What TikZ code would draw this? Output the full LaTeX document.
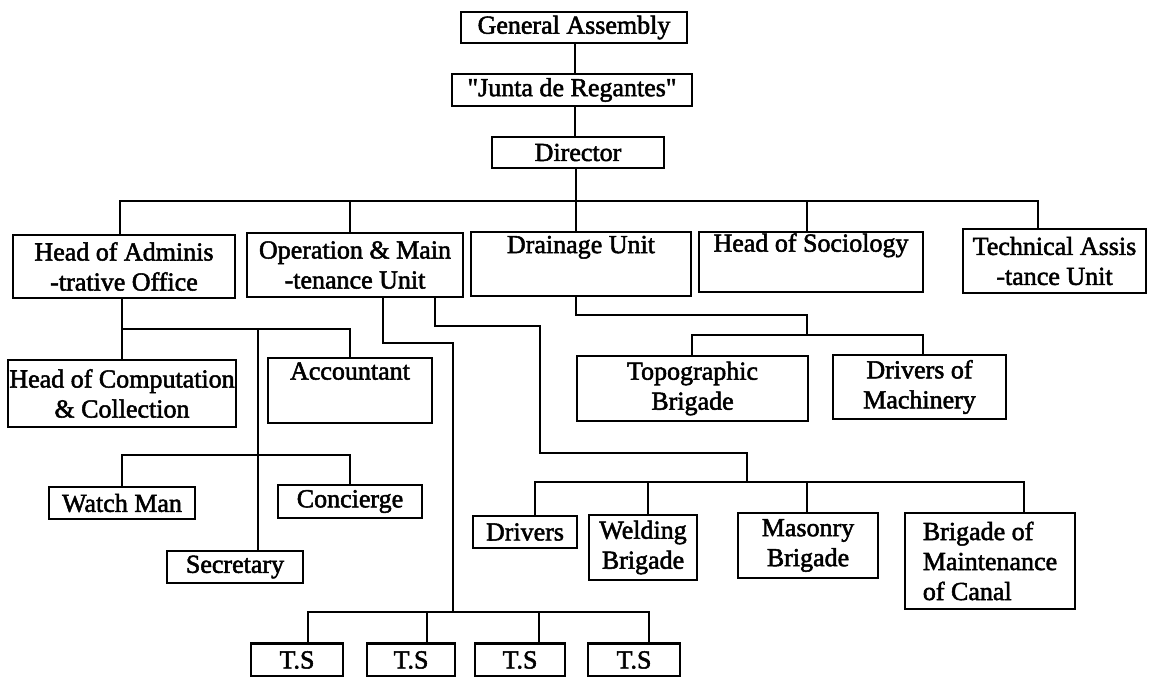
\documentclass[tikz,border=0pt]{standalone}
\usepackage{fontspec}
\setmainfont{Liberation Serif}[FakeBold=2]
\newfontfamily\plainserif{Liberation Serif}[FakeBold=2]
\begin{document}
\begin{tikzpicture}[x=1pt,y=-1pt,
  box/.style={draw, line width=2.6pt, inner sep=0pt, align=center,
    font=\fontsize{26}{30}\selectfont},
  conn/.style={line width=2.6pt}]
\useasboundingbox (0,0) rectangle (1149,677);
% top chain
\node[box, minimum width=226pt, minimum height=31pt] (ga) at (574,27.5) {General Assembly};
\node[box, minimum width=240pt, minimum height=32pt] (junta) at (572,90) {\plainserif"Junta de Regantes"};
\node[box, minimum width=172pt, minimum height=31pt] (dir) at (578,152.5) {Director};
% level 1
\node[box, minimum width=222pt, minimum height=63pt] (admin) at (124,266.5) {Head of Adminis\\-trative Office};
\node[box, minimum width=216pt, minimum height=64pt] (oper) at (355,265) {Operation \& Main\\-tenance Unit};
\node[box, minimum width=220pt, minimum height=64pt] (drain) at (581,264) {Drainage Unit\\\strut};
\node[box, minimum width=224pt, minimum height=60pt] (socio) at (811,262) {Head of Sociology\\\strut};
\node[box, minimum width=183pt, minimum height=64pt] (tech) at (1054.5,261) {Technical Assis\\-tance Unit};
% level 2
\node[box, minimum width=228pt, minimum height=67pt] (hoc) at (122,393.5) {Head of Computation\\\& Collection};
\node[box, minimum width=164pt, minimum height=65pt] (acct) at (350,390.5) {Accountant\\\strut};
\node[box, minimum width=231pt, minimum height=65pt] (topo) at (692.5,388.5) {Topographic\\Brigade};
\node[box, minimum width=173pt, minimum height=64pt] (dom) at (919.5,387) {Drivers of\\Machinery};
% level 3
\node[box, minimum width=146pt, minimum height=32pt] (watch) at (122,503) {Watch Man};
\node[box, minimum width=144pt, minimum height=33pt] (conc) at (350,501.5) {Concierge};
\node[box, minimum width=136pt, minimum height=32pt] (sec) at (235,567) {Secretary};
\node[box, minimum width=104pt, minimum height=32pt] (drivers) at (525,532) {Drivers};
\node[box, minimum width=108pt, minimum height=65pt] (weld) at (643,547.5) {Welding\\Brigade};
\node[box, minimum width=140pt, minimum height=65pt] (mason) at (808,545.5) {Masonry\\Brigade};
\node[box, minimum width=170pt, minimum height=96pt, align=left] (bmc) at (990,561) {Brigade of\\Maintenance\\of Canal};
% T.S
\node[box, minimum width=92pt, minimum height=33pt] (ts1) at (297,660) {T.S};
\node[box, minimum width=88pt, minimum height=33pt] (ts2) at (411,660) {T.S};
\node[box, minimum width=90pt, minimum height=33pt] (ts3) at (520,660) {T.S};
\node[box, minimum width=92pt, minimum height=33pt] (ts4) at (634,660) {T.S};
% bus coordinates
\coordinate (bus) at (576,201);
\coordinate (abus) at (122,329);
\coordinate (wbus) at (122,455);
\coordinate (tsbus) at (453,612);
\coordinate (mbus) at (747,482);
\coordinate (dbus) at (807,335);
% connectors
\draw[conn] (575,0 |- ga.south) -- (575,0 |- junta.north);
\draw[conn] (575,0 |- junta.south) -- (575,0 |- dir.north);
\draw[conn] (dir.south -| bus) -- (bus) -- (drain.north -| bus);
\draw[conn] (admin.north -| 120,0) |- (bus) -| (1038,0 |- tech.north);
\draw[conn] (350,0 |- bus) -- (350,0 |- oper.north);
\draw[conn] (807,0 |- bus) -- (807,0 |- socio.north);
% admin
\draw[conn] (122,0 |- admin.south) -- (122,0 |- hoc.north);
\draw[conn] (abus) -| (350,0 |- acct.north);
\draw[conn] (258,0 |- abus) -- (258,0 |- sec.north);
\draw[conn] (122,0 |- watch.north) |- (wbus) -| (350,0 |- conc.north);
% operation
\draw[conn] (383,0 |- oper.south) |- (453,343) -- (tsbus);
\draw[conn] (308,0 |- ts1.north) |- (tsbus) -| (649,0 |- ts4.north);
\draw[conn] (427,0 |- tsbus) -- (427,0 |- ts2.north);
\draw[conn] (539,0 |- tsbus) -- (539,0 |- ts3.north);
\draw[conn] (435,0 |- oper.south) |- (540,326) |- (747,453) -- (mbus);
\draw[conn] (535,0 |- drivers.north) |- (mbus) -| (1024,0 |- bmc.north);
\draw[conn] (648,0 |- mbus) -- (648,0 |- weld.north);
\draw[conn] (807,0 |- mbus) -- (807,0 |- mason.north);
% drainage
\draw[conn] (576,0 |- drain.south) |- (807,315) -- (dbus);
\draw[conn] (692,0 |- topo.north) |- (dbus) -| (923,0 |- dom.north);
\end{tikzpicture}
\end{document}
